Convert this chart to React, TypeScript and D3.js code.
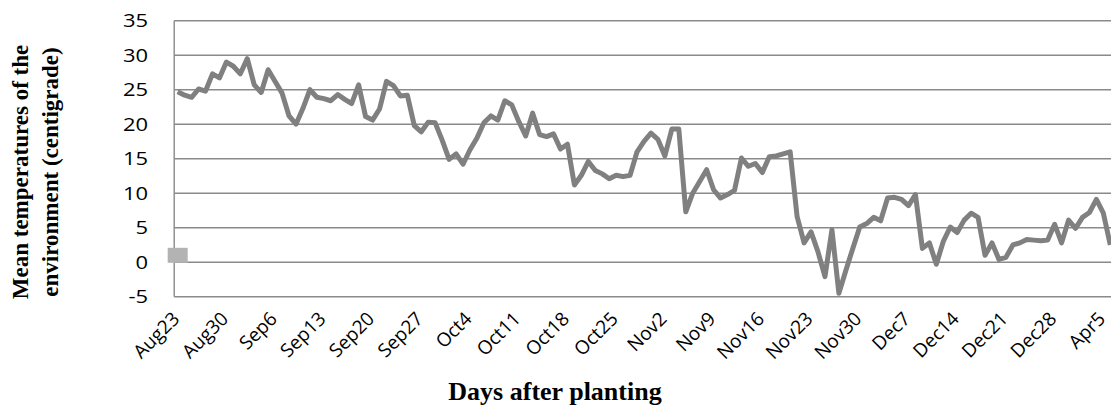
import * as d3 from "d3";

// daily mean temperature (°C), one value per category
const temps = [
  24.7, 24.2, 23.9, 25.1, 24.8, 27.3, 26.7, 29.0, 28.4, 27.3,
  29.5, 25.7, 24.6, 27.9, 26.2, 24.5, 21.2, 20.0, 22.3, 25.0,
  23.9, 23.7, 23.4, 24.3, 23.6, 23.0, 25.7, 21.1, 20.6, 22.2,
  26.2, 25.6, 24.1, 24.2, 19.8, 18.9, 20.3, 20.2, 17.7, 14.9,
  15.7, 14.2, 16.3, 18.0, 20.2, 21.2, 20.6, 23.4, 22.8, 20.4,
  18.3, 21.6, 18.5, 18.2, 18.6, 16.4, 17.1, 11.2, 12.6, 14.6,
  13.3, 12.8, 12.1, 12.6, 12.4, 12.6, 16.0, 17.5, 18.7, 17.8,
  15.4, 19.3, 19.3, 7.3, 10.0, 11.7, 13.4, 10.5, 9.3, 9.8,
  10.4, 15.1, 13.9, 14.3, 13.0, 15.3, 15.4, 15.7, 16.0, 6.6,
  2.8, 4.4, 1.5, -2.1, 4.7, -4.5, -1.2, 2.0, 5.1, 5.6,
  6.5, 6.0, 9.3, 9.4, 9.1, 8.2, 9.8, 2.0, 2.8, -0.3,
  3.0, 5.1, 4.3, 6.1, 7.1, 6.5, 1.0, 2.8, 0.4, 0.7,
  2.5, 2.8, 3.3, 3.2, 3.1, 3.2, 5.5, 2.8, 6.1, 4.9,
  6.5, 7.2, 9.1, 7.1, 2.5,
];

// second series: a single marker on the first category
const markerDays = [0];
const markerValues = [1.0];

// category labels shown every 7th category
const tickLabels = [
  "Aug23", "Aug30", "Sep6", "Sep13", "Sep20", "Sep27", "Oct4", "Oct11",
  "Oct18", "Oct25", "Nov2", "Nov9", "Nov16", "Nov23", "Nov30", "Dec7",
  "Dec14", "Dec21", "Dec28", "Apr5",
];
const labelStep = 7;

const yTicks = [-5, 0, 5, 10, 15, 20, 25, 30, 35];

const yTitle = ["Mean temperatures of the", "environment (centigrade)"];
const xTitle = "Days after planting";

export default function App() {
  const width = 1111;
  const height = 410;
  const plotLeft = 174.2;
  const plotRight = 1113.8;
  const plotTop = 20.7;
  const plotBottom = 296.7;

  const days = temps.map((_, i) => i);

  const x = d3.scaleBand<number>().domain(days).range([plotLeft, plotRight]);
  const cx = (i: number) => (x(i) ?? 0) + x.bandwidth() / 2;

  const y = d3.scaleLinear().domain([-5, 35]).range([plotBottom, plotTop]);

  const line = d3
    .line<number>()
    .x((_, i) => cx(i))
    .y((d) => y(d));

  const gridColor = "#8a8a8a";
  const tickFont = "'Open Sans', 'Liberation Sans', sans-serif";
  const titleFont = "'Liberation Serif', 'Times New Roman', serif";

  return (
    <svg
      width={width}
      height={height}
      style={{ position: "absolute", left: 0, top: 0, background: "#fff" }}
    >
      {yTicks.map((t) => (
        <line
          key={`g${t}`}
          x1={plotLeft}
          x2={width}
          y1={y(t)}
          y2={y(t)}
          stroke={gridColor}
          strokeWidth={1.4}
        />
      ))}
      <line
        x1={plotLeft}
        x2={plotLeft}
        y1={plotTop}
        y2={plotBottom}
        stroke={gridColor}
        strokeWidth={1.4}
      />

      {yTicks.map((t) => (
        <g key={`yl${t}`} transform={`translate(148,${y(t)}) scale(1.22,1)`}>
          <text
            textAnchor="end"
            dy="0.36em"
            fontFamily={tickFont}
            fontSize={18}
            fill="#000"
          >
            {t}
          </text>
        </g>
      ))}

      {tickLabels.map((lab, k) => (
        <text
          key={lab}
          transform={`translate(${cx(k * labelStep) + 3},320) rotate(-45)`}
          textAnchor="end"
          fontFamily={tickFont}
          fontSize={19}
          fill="#000"
        >
          {lab}
        </text>
      ))}

      <path
        d={line(temps) ?? ""}
        fill="none"
        stroke="#808080"
        strokeWidth={5}
        strokeLinejoin="round"
      />

      {markerDays.map((d, i) => (
        <rect
          key={`m${i}`}
          x={cx(d) - 10}
          y={y(markerValues[i]) - 7.5}
          width={20}
          height={15}
          fill="#b3b3b3"
        />
      ))}

      <text
        x={555}
        y={400}
        textAnchor="middle"
        fontFamily={titleFont}
        fontWeight="bold"
        fontSize={26}
        fill="#000"
      >
        {xTitle}
      </text>

      {yTitle.map((t, i) => (
        <text
          key={t}
          transform={`translate(${28 + i * 30},172) rotate(-90)`}
          textAnchor="middle"
          fontFamily={titleFont}
          fontWeight="bold"
          fontSize={23}
          fill="#000"
        >
          {t}
        </text>
      ))}
    </svg>
  );
}
